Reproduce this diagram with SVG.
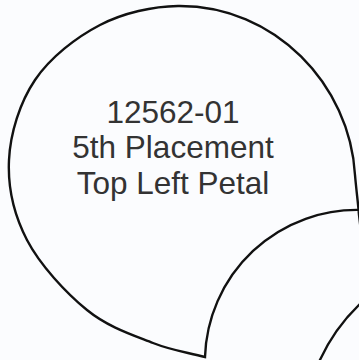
<svg xmlns="http://www.w3.org/2000/svg" width="359" height="360" viewBox="0 0 359 360">
  <style>
    .outline { fill: none; stroke: #111; stroke-width: 2.4; stroke-linejoin: miter; }
    .label { font-family: "Liberation Sans", Arial, sans-serif; font-size: 31.5px; fill: #333; text-anchor: middle; }
  </style>
  <rect x="0" y="0" width="359" height="360" fill="#fbfcfe"/>
  <g id="petal-top-left">
    <path class="outline" d="M205,357 C187.7,352.3 172.7,350.8 153,343 C133.3,335.2 108,327.2 87,310 C66,292.8 40,265 27,240 C14,215 7.7,186.7 9,160 C10.3,133.3 19.8,102.5 35,80 C50.2,57.5 76.2,37.3 100,25 C123.8,12.7 153,6.3 178,6 C275,5 350,85 355,175 C356.5,192 358,202 359,215 L362,240 L362,210 A152,152 0 0 0 205,357 Z"/>
    <text class="label" x="173" y="123">12562-01</text>
    <text class="label" x="173" y="158">5th Placement</text>
    <text class="label" x="173" y="194">Top Left Petal</text>
  </g>
  <g id="petal-bottom-right">
    <path class="outline" d="M319,362 A185,185 0 0 1 362,302"/>
  </g>
</svg>
